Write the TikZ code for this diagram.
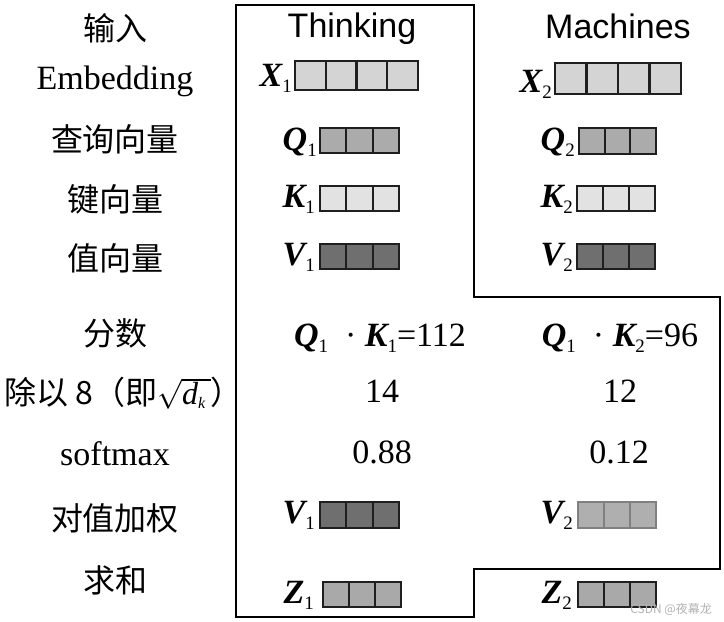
\RequirePackage{fix-cm}
\documentclass[tikz,border=0pt]{standalone}
\usepackage{fontspec}
\setmainfont{Liberation Serif}
\newfontfamily\cjkf{Noto Sans CJK SC}
\newfontfamily\arialf{Liberation Sans}
\definecolor{cX}{HTML}{D4D4D4}
\definecolor{cQ}{HTML}{ABABAB}
\definecolor{cK}{HTML}{E2E2E2}
\definecolor{cV}{HTML}{6F6F6F}
\definecolor{cVw}{HTML}{AFAFAF}
\definecolor{cZ}{HTML}{A9A9A9}
\newcommand\vlab[2]{{\bfseries\itshape #1}\raisebox{-6pt}{\fontsize{19}{19}\selectfont #2}}
\newcommand\cellrow[7]{\foreach \ci in {1,...,#3}{\draw[cellbox,#7,fill=#6] ({#1+(\ci-1)*#4},#2) rectangle ++(#4,#5);}}
\newcommand\sqdk{{\fontsize{30}{32}\selectfont$\sqrt{\mbox{\rmfamily\fontsize{32}{34}\selectfont\itshape d}_{\mbox{\rmfamily\fontsize{16}{16}\selectfont\itshape k}}\,}$}}
\begin{document}
\begin{tikzpicture}[x=1pt,y=-1pt,
  cellbox/.style={draw=black!88,line width=2.1pt},
  softbox/.style={draw=black!50},
  cjkrow/.style={font=\cjkf\fontsize{32}{36}\selectfont,inner sep=0pt,anchor=center},
  romrow/.style={font=\fontsize{34}{38}\selectfont,inner sep=0pt,anchor=base},
  wordlab/.style={font=\arialf\fontsize{34}{38}\selectfont,inner sep=0pt,anchor=base},
  veclab/.style={font=\fontsize{34}{38}\selectfont,inner sep=0pt,anchor=base east},
  numlab/.style={font=\fontsize{34}{38}\selectfont,inner sep=0pt,anchor=base},
  outline/.style={draw=black,line width=2.5pt,line join=miter}]
\useasboundingbox (0,0) rectangle (724,622);
% outline
\draw[outline] (236,5) -- (474,5) -- (474,297) -- (720,297) -- (720,569) -- (474,569) -- (474,617) -- (236,617) -- cycle;
% row labels
\node[cjkrow] (r0) at (115,28) {输入};
\node[romrow] (r1) at (115,89) {Embedding};
\node[cjkrow] (r2) at (115,139) {查询向量};
\node[cjkrow] (r3) at (115,199) {键向量};
\node[cjkrow] (r4) at (115,258) {值向量};
\node[cjkrow] (r5) at (115,333) {分数};
\node[cjkrow,anchor=west] (r6) at (4,393) {除以 8（即\sqdk）};
\node[romrow] (r7) at (115,465) {softmax};
\node[cjkrow] (r8) at (115,518) {对值加权};
\node[cjkrow] (r9) at (115,580) {求和};
% column headers
\node[wordlab] (h1) at (352,37) {Thinking};
\node[wordlab] (h2) at (618,38) {Machines};
% cells, Thinking
\cellrow{295}{61}{4}{30.75}{29}{cX}{}
\cellrow{320}{128}{3}{26.3}{25}{cQ}{}
\cellrow{320}{186}{3}{26.3}{25}{cK}{}
\cellrow{320}{244}{3}{26.3}{25}{cV}{}
\cellrow{320}{502}{3}{26.3}{26}{cV}{}
\cellrow{323}{582}{3}{26}{25}{cZ}{}
% cells, Machines
\cellrow{555}{63}{4}{31.5}{31}{cX}{}
\cellrow{579}{128}{3}{25.7}{26}{cQ}{}
\cellrow{577}{186}{3}{26}{25}{cK}{}
\cellrow{577}{244}{3}{26}{25}{cV}{}
\cellrow{578}{502}{3}{26}{26}{cVw}{softbox}
\cellrow{578}{582}{3}{26}{25}{cZ}{}
% vector labels
\node[veclab] (x1) at (292,86) {\vlab{X}{1}};
\node[veclab] (q1) at (317,150) {\vlab{Q}{1}};
\node[veclab] (k1) at (315,207) {\vlab{K}{1}};
\node[veclab] (v1) at (315,265) {\vlab{V}{1}};
\node[veclab] (x2) at (552,92) {\vlab{X}{2}};
\node[veclab] (q2) at (575,150) {\vlab{Q}{2}};
\node[veclab] (k2) at (573,207) {\vlab{K}{2}};
\node[veclab] (v2) at (573,265) {\vlab{V}{2}};
\node[veclab] (v1w) at (315,523) {\vlab{V}{1}};
\node[veclab] (v2w) at (573,523) {\vlab{V}{2}};
\node[veclab] (z1) at (314,603) {\vlab{Z}{1}};
\node[veclab] (z2) at (572,603) {\vlab{Z}{2}};
% numbers
\node[numlab] (s1) at (380,346) {\vlab{Q}{1}\ \ ·\ \vlab{K}{1}=112};
\node[numlab] (s2) at (620,346) {\vlab{Q}{1}\ \ ·\ \vlab{K}{2}=96};
\node[numlab] (d1) at (382,402) {14};
\node[numlab] (d2) at (620,402) {12};
\node[numlab] (p1) at (382,463) {0.88};
\node[numlab] (p2) at (619,463) {0.12};
% watermark
\node[font=\cjkf\fontsize{12}{14}\selectfont,text=black!30,inner sep=0pt,anchor=east] (wm) at (712,609) {CSDN @夜幕龙};
\end{tikzpicture}
\end{document}
